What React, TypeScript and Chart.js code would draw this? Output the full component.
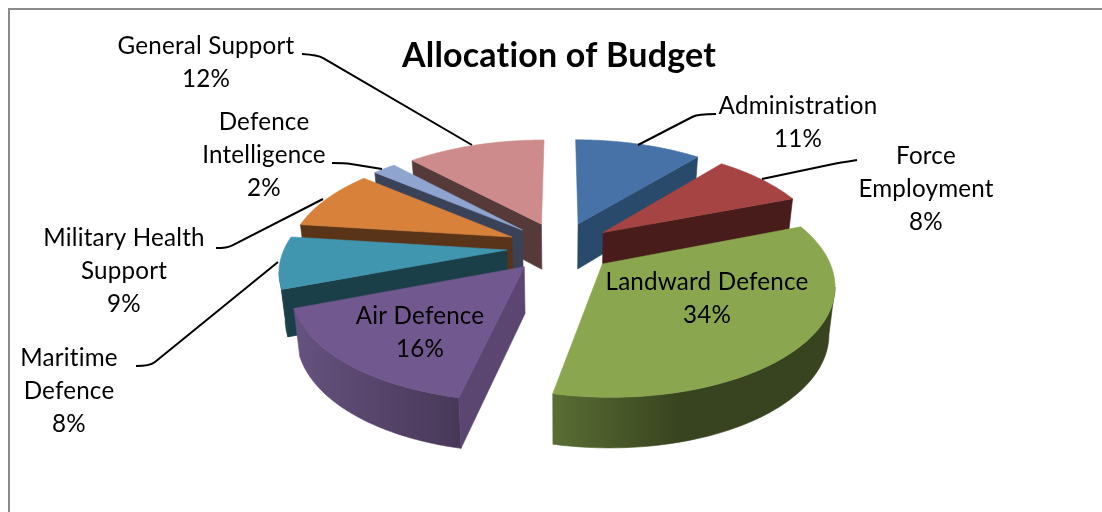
import React, { useEffect, useRef } from "react";
import { Chart, registerables } from "chart.js";

Chart.register(...registerables);

const titleText = "Allocation of Budget";
const categories = [
  "Administration",
  "Force Employment",
  "Landward Defence",
  "Air Defence",
  "Maritime Defence",
  "Military Health Support",
  "Defence Intelligence",
  "General Support",
];
const shares = [11.0, 8.2, 34.2, 15.9, 7.7, 9.0, 2.0, 12.0];
const topColors = ["#4672A8", "#A54442", "#8AA74F", "#71588F", "#4096AE", "#D7813B", "#8FA5CF", "#CD8C8B"];
const sideColors = ["#2A4A6B", "#471C1A", "#3F4F22", "#5B4672", "#1A3F49", "#593418", "#3A4257", "#563A3A"];
const rimFrom = ["#2A4A6B", "#471C1A", "#5A6E34", "#66527F", "#3A8AA2", "#593418", "#3A4257", "#563A3A"];
const rimTo = ["#2A4A6B", "#471C1A", "#38431F", "#483858", "#1A3F49", "#593418", "#3A4257", "#563A3A"];
const labelLines = [
  ["Administration"],
  ["Force", "Employment"],
  ["Landward Defence"],
  ["Air Defence"],
  ["Maritime", "Defence"],
  ["Military Health", "Support"],
  ["Defence", "Intelligence"],
  ["General Support"],
];
const labelCentres = [
  [798, 106],
  [926, 156],
  [707, 282],
  [420, 316],
  [69, 358],
  [124, 238],
  [264, 122],
  [206, 46],
];
const leaders = [
  [[716, 114], [698, 114], [638, 145]],
  [[857, 160], [838, 163], [762, 179]],
  [],
  [],
  [[136, 366], [150, 366], [278, 262]],
  [[216, 248], [227, 248], [323, 199]],
  [[332, 163], [345, 163], [382, 169]],
  [[302, 54], [318, 55], [472, 145]],
];
const paintOrder = [0, 7, 6, 5, 4, 1, 2, 3];

const CU = 560.5;
const CV = 247;
const SCALE_X = 222;
const SCALE_Y = 105;
const TILT = 0.165;
const LOWER_SHRINK = 0.978;
const RIM_VISIBLE_FROM = 0.2;
const LINE_HEIGHT = 33;
const FONT = "Lato, Carlito, sans-serif";

const project = (nx: number, ny: number, lowered = false) => {
  const w = 1 - TILT * ny;
  const drop = lowered ? 46 + 4 * ny : 0;
  const k = lowered ? LOWER_SHRINK : 1;
  return [CU + (k * SCALE_X * nx) / w, CV + (SCALE_Y * ny) / w + drop];
};

const polygon = (ctx: CanvasRenderingContext2D, pts: number[][]) => {
  ctx.beginPath();
  pts.forEach((p, i) => (i ? ctx.lineTo(p[0], p[1]) : ctx.moveTo(p[0], p[1])));
  ctx.closePath();
};

const paint = (ctx: CanvasRenderingContext2D, pts: number[][], color: any) => {
  polygon(ctx, pts);
  ctx.fillStyle = color;
  ctx.strokeStyle = color;
  ctx.lineWidth = 0.6;
  ctx.fill();
  ctx.stroke();
};

const pie3d = {
  id: "pie3d",
  beforeDraw(chart: any) {
    const { ctx } = chart;
    ctx.letterSpacing = "0.2px";
    ctx.save();
    ctx.fillStyle = "#ffffff";
    ctx.fillRect(0, 0, chart.width, chart.height);
    ctx.strokeStyle = "#8c8c8c";
    ctx.lineWidth = 2;
    ctx.beginPath();
    ctx.moveTo(9, chart.height);
    ctx.lineTo(9, 9);
    ctx.lineTo(chart.width, 9);
    ctx.stroke();
    ctx.restore();
  },
  beforeDatasetsDraw(chart: any) {
    const { ctx } = chart;
    const arcs = chart.getDatasetMeta(0).data;
    ctx.save();
    paintOrder.forEach((i) => {
      const el = arcs[i];
      const { startAngle, endAngle, outerRadius } = el.getProps(["startAngle", "endAngle", "outerRadius"], true);
      const mid = (startAngle + endAngle) / 2;
      const gap = el.options.offset / outerRadius;
      const ox = Math.cos(mid) * gap;
      const oy = Math.sin(mid) * gap;
      const steps = 72;
      const angleAt = (k: number) => startAngle + ((endAngle - startAngle) * k) / steps;
      const top: number[][] = [];
      const rimParts: number[][] = [];
      const rimLow: number[][] = [];
      for (let k = 0; k <= steps; k++) {
        const a = angleAt(k);
        const nx = Math.cos(a) + ox;
        const ny = Math.sin(a) + oy;
        top.push(project(nx, ny));
        if (Math.sin(a) > RIM_VISIBLE_FROM) {
          rimParts.push(project(nx, ny));
          rimLow.unshift(project(nx, ny, true));
        }
      }
      if (rimParts.length > 1) {
        const xs = rimParts.map((p) => p[0]);
        const grad = ctx.createLinearGradient(Math.min(...xs), 0, Math.max(...xs), 0);
        grad.addColorStop(0, rimFrom[i]);
        grad.addColorStop(i === 2 ? 0.45 : 1, rimTo[i]);
        grad.addColorStop(1, rimTo[i]);
        paint(ctx, [...rimParts, ...rimLow], grad);
      }
      const apexTop = project(ox, oy);
      const apexLow = project(ox, oy, true);
      const radial = (a: number) => [
        apexTop,
        project(Math.cos(a) + ox, Math.sin(a) + oy),
        project(Math.cos(a) + ox, Math.sin(a) + oy, true),
        apexLow,
      ];
      if (Math.cos(startAngle) < -0.001) paint(ctx, radial(startAngle), sideColors[i]);
      if (Math.cos(endAngle) > 0.001) paint(ctx, radial(endAngle), sideColors[i]);
      paint(ctx, [apexTop, ...top], topColors[i]);
    });
    ctx.restore();
    return false;
  },
  afterDraw(chart: any) {
    const { ctx } = chart;
    ctx.save();
    ctx.strokeStyle = "#000000";
    ctx.lineWidth = 2;
    leaders.forEach((pts) => {
      if (!pts.length) return;
      const dx = pts[2][0] - pts[1][0];
      const dy = pts[2][1] - pts[1][1];
      const len = Math.hypot(dx, dy);
      ctx.beginPath();
      ctx.moveTo(pts[0][0], pts[0][1]);
      ctx.quadraticCurveTo(pts[1][0], pts[1][1], pts[1][0] + (dx / len) * 6, pts[1][1] + (dy / len) * 6);
      ctx.lineTo(pts[2][0], pts[2][1]);
      ctx.stroke();
    });
    ctx.fillStyle = "#000000";
    ctx.font = `24.2px ${FONT}`;
    ctx.textAlign = "center";
    ctx.textBaseline = "middle";
    categories.forEach((_, i) => {
      const lines = [...labelLines[i], `${Math.round(shares[i])}%`];
      lines.forEach((line, j) => {
        ctx.fillText(line, labelCentres[i][0], labelCentres[i][1] + j * LINE_HEIGHT);
      });
    });
    ctx.restore();
  },
};

export default function App() {
  const ref = useRef<HTMLCanvasElement | null>(null);
  useEffect(() => {
    const chart = new Chart(ref.current as HTMLCanvasElement, {
      type: "pie",
      data: {
        labels: categories,
        datasets: [
          {
            data: shares,
            backgroundColor: topColors,
            borderWidth: 0,
            offset: 47,
          },
        ],
      },
      options: {
        animation: false,
        responsive: false,
        devicePixelRatio: 1,
        layout: { padding: { left: 16 } },
        plugins: {
          legend: { display: false },
          tooltip: { enabled: false },
          title: {
            display: true,
            text: titleText,
            fullSize: false,
            color: "#000000",
            font: { family: FONT, size: 34, weight: "bold" },
            padding: { top: 36, bottom: 0 },
          },
        },
      },
      plugins: [pie3d],
    } as any);
    return () => chart.destroy();
  }, []);
  return (
    <div style={{ position: "absolute", left: 0, top: 0, width: 1102, height: 512, background: "#fff" }}>
      <canvas ref={ref} width={1102} height={512} style={{ display: "block" }} />
    </div>
  );
}
